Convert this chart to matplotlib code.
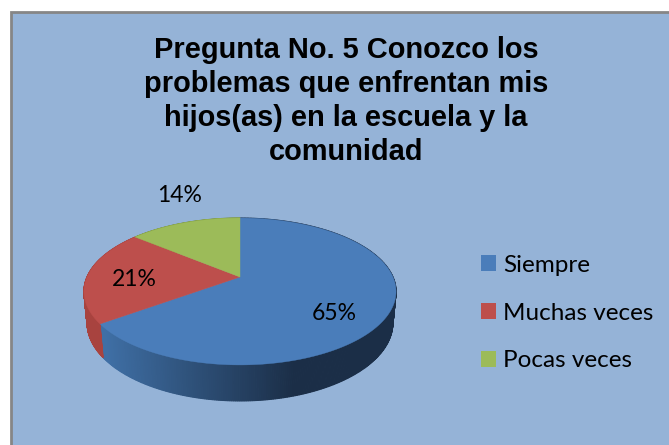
import numpy as np
import matplotlib
matplotlib.use("Agg")
import matplotlib.pyplot as plt
from matplotlib.patches import Polygon, Rectangle, Patch

title = "Pregunta No. 5 Conozco los\nproblemas que enfrentan mis\nhijos(as) en la escuela y la\ncomunidad"
categories = ["Siempre", "Muchas veces", "Pocas veces"]
values = [65, 21, 14]
labels = ["65%", "21%", "14%"]

BG = "#95b3d7"
TOP = ["#4a7dba", "#bd4f4c", "#9cbb59"]
WALL_L = [np.array(matplotlib.colors.to_rgb(c)) for c in ["#3f6fa5", "#a8433f", "#7f9a45"]]
WALL_R = [np.array(matplotlib.colors.to_rgb(c)) for c in ["#1b2e47", "#a8433f", "#7f9a45"]]

fig = plt.figure(figsize=(6.69, 4.45), dpi=100, facecolor="white")
ax = fig.add_axes([0, 0, 1, 1])
ax.set_xlim(0, 669)
ax.set_ylim(445, 0)
ax.axis("off")

# chart frame
ax.add_patch(Rectangle((11, 12), 670, 445, facecolor=BG, edgecolor="#868686", linewidth=2))

# perspective projection of a unit-disc pie
CX, CY = 240, 277
A, B, K, E, M = 70.6, 153, 0.197, 31.4, -0.02


def project(theta, z=0.0):
    u, v = np.sin(theta), np.cos(theta)
    w = 1 + K * v + M * z
    return CX + B * u / w, CY - (A * v + E * z) / w


fractions = np.array(values) / sum(values)
edges = np.concatenate([[0], np.cumsum(fractions)]) * 2 * np.pi

# side walls; the top face covers the hidden part
for i in range(len(values)):
    th = np.linspace(edges[i], edges[i + 1], 361)
    for t0, t1 in zip(th[:-1], th[1:]):
        x0, y0 = project(t0)
        x1, y1 = project(t1)
        x2, y2 = project(t1, -1)
        x3, y3 = project(t0, -1)
        mix = np.clip((x0 - 105) / 190, 0, 1)
        col = WALL_L[i] * (1 - mix) + WALL_R[i] * mix
        ax.add_patch(Polygon([(x0, y0), (x1, y1), (x2, y2), (x3, y3)],
                             facecolor=col, edgecolor=col, linewidth=0.8))

# top faces
for i in range(len(values)):
    th = np.linspace(edges[i], edges[i + 1], 181)
    px, py = project(th)
    pts = np.column_stack([np.r_[CX, px], np.r_[CY, py]])
    ax.add_patch(Polygon(pts, facecolor=TOP[i], edgecolor=TOP[i], linewidth=0.3))

# data labels
label_pos = [(334, 313), (134, 279), (180, 195)]
for s, (x, y) in zip(labels, label_pos):
    ax.text(x, y, s, ha="center", va="center", fontsize=16.5, family="Lato", color="black")

# title
ax.text(346, 101, title, ha="center", va="center", fontsize=20.9, fontweight="bold",
        family="Liberation Sans", linespacing=1.26, color="black")

# legend
handles = [Patch(facecolor=c, edgecolor="none") for c in TOP]
ax.legend(handles, categories, loc="center left", bbox_to_anchor=(481 / 669, 1 - 313 / 445),
          frameon=False, prop={"family": "Lato", "size": 17.5}, handlelength=0.62, handleheight=0.62,
          handletextpad=0.29, labelspacing=1.1, borderpad=0, borderaxespad=0)

fig.savefig("out.png", dpi=100, facecolor="white")
